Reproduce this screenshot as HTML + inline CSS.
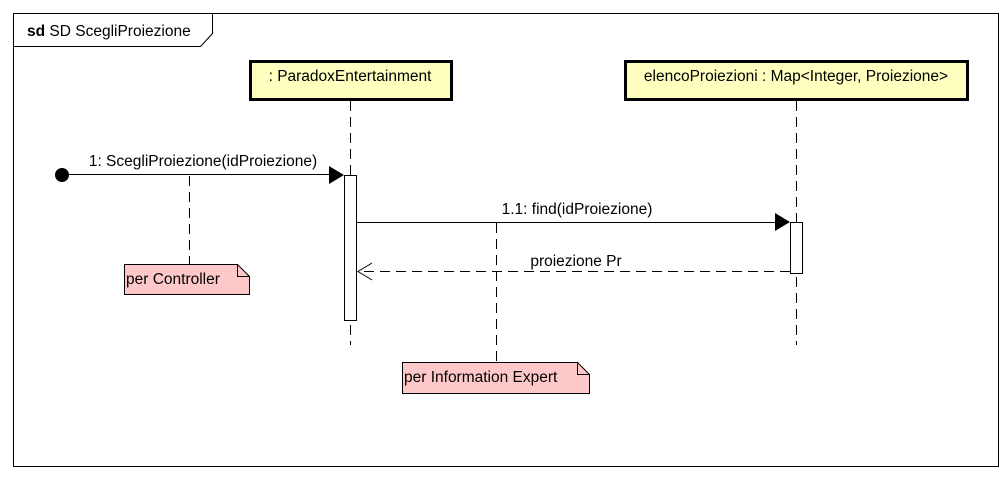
<!DOCTYPE html>
<html><head><meta charset="utf-8"><style>
body{margin:0;background:#fff}
svg text{font-family:"Liberation Sans",Arial,sans-serif;font-size:15.5px;fill:#000}
</style></head><body>
<svg width="1008" height="480" xmlns="http://www.w3.org/2000/svg">
<rect width="1008" height="480" fill="#fff"/>
<rect x="13.5" y="13.5" width="985" height="453" fill="none" stroke="#000" stroke-width="1"/>
<path d="M13.5 46.5 H200.5 L212.5 33.5 V13.5" fill="none" stroke="#000"/>
<text x="27" y="36"><tspan font-weight="bold">sd</tspan> SD ScegliProiezione</text>

<rect x="250.5" y="61.5" width="201" height="38" fill="#ffffc0" stroke="#000" stroke-width="3"/>
<text x="350" y="81" text-anchor="middle">: ParadoxEntertainment</text>
<rect x="625.5" y="61.5" width="342" height="38" fill="#ffffc0" stroke="#000" stroke-width="3"/>
<text x="796" y="81" text-anchor="middle">elencoProiezioni : Map&lt;Integer, Proiezione&gt;</text>

<line x1="350.5" y1="101" x2="350.5" y2="345" stroke="#000" stroke-dasharray="10,6"/>
<line x1="796.5" y1="101" x2="796.5" y2="345" stroke="#000" stroke-dasharray="10,6"/>

<rect x="344.5" y="175.5" width="12" height="145" fill="#fff" stroke="#000"/>
<rect x="790.5" y="222.5" width="12" height="51" fill="#fff" stroke="#000"/>

<circle cx="62" cy="175" r="7" fill="#000"/>
<line x1="62" y1="174.5" x2="330" y2="174.5" stroke="#000"/>
<path d="M329 166 L344 175 L329 184 Z" fill="#000"/>
<text x="203" y="166" text-anchor="middle">1: ScegliProiezione(idProiezione)</text>

<line x1="357" y1="222.5" x2="776" y2="222.5" stroke="#000"/>
<path d="M775 213 L790 222 L775 231 Z" fill="#000"/>
<text x="577" y="214" text-anchor="middle">1.1: find(idProiezione)</text>

<line x1="790" y1="271.5" x2="358" y2="271.5" stroke="#000" stroke-dasharray="10,6"/>
<path d="M372 263 L358 271.5 L372 280" fill="none" stroke="#000"/>
<text x="576" y="266" text-anchor="middle">proiezione Pr</text>

<line x1="189.5" y1="176" x2="189.5" y2="264" stroke="#000" stroke-dasharray="10,6"/>
<path d="M124.5 264.5 H237.5 L249.5 276.5 V294.5 H124.5 Z" fill="#ffc8c8" stroke="#000"/>
<path d="M237.5 264.5 V276.5 H249.5" fill="none" stroke="#000"/>
<text x="126" y="284">per Controller</text>

<line x1="496.5" y1="223" x2="496.5" y2="362" stroke="#000" stroke-dasharray="10,6"/>
<path d="M402.5 362.5 H577.5 L589.5 374.5 V393.5 H402.5 Z" fill="#ffc8c8" stroke="#000"/>
<path d="M577.5 362.5 V374.5 H589.5" fill="none" stroke="#000"/>
<text x="404" y="382">per Information Expert</text>
</svg>
</body></html>
